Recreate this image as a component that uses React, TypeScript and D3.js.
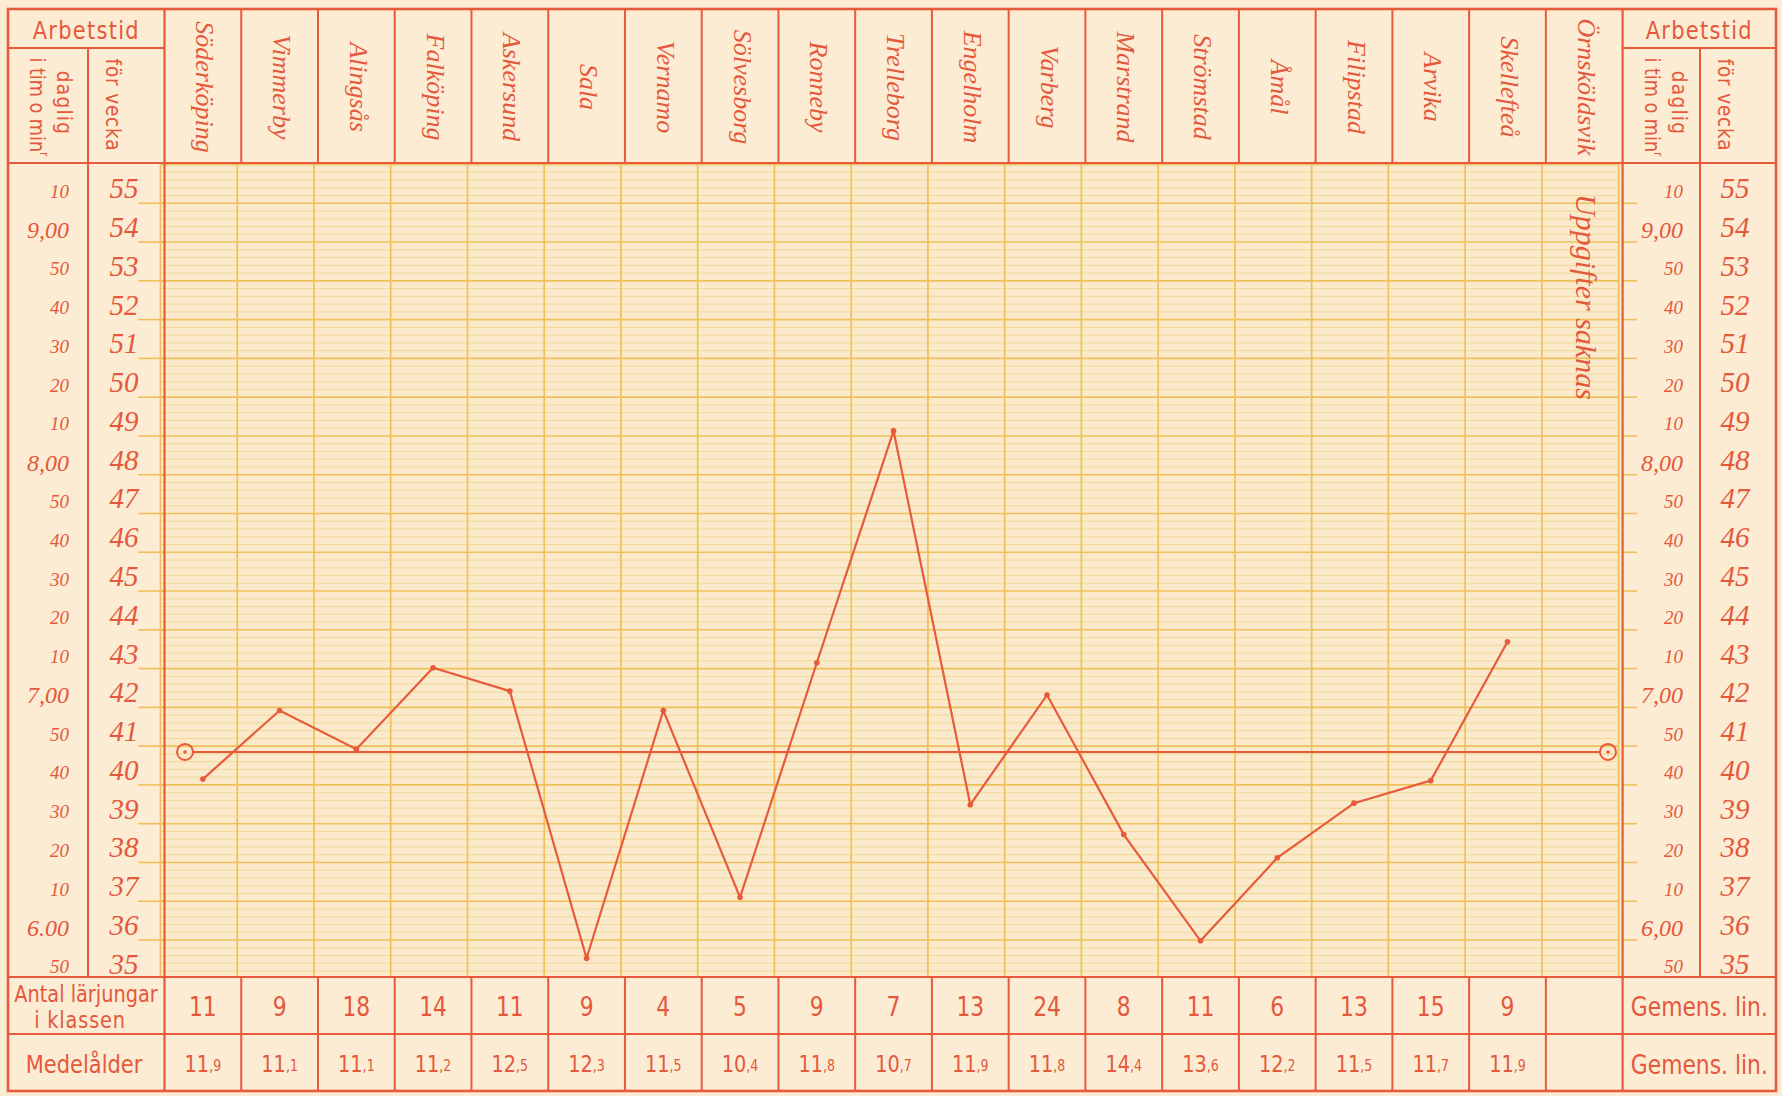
import React from "react";
import * as d3 from "d3";

// ---------- data ----------
const cities = [
  "Söderköping", "Vimmerby", "Alingsås", "Falköping", "Askersund", "Sala",
  "Vernamo", "Sölvesborg", "Ronneby", "Trelleborg", "Engelholm", "Varberg",
  "Marstrand", "Strömstad", "Åmål", "Filipstad", "Arvika", "Skellefteå", "Örnsköldsvik",
];
// working time, hours per week (null = no data)
const weeklyHours: (number | null)[] = [
  40.15, 41.92, 40.92, 43.02, 42.42, 35.53, 41.92, 37.1, 43.15, 49.13,
  39.49, 42.32, 38.72, 35.98, 38.12, 39.53, 40.11, 43.69, null,
];
const pupils: (number | null)[] = [11, 9, 18, 14, 11, 9, 4, 5, 9, 7, 13, 24, 8, 11, 6, 13, 15, 9, null];
const meanAge: (number | null)[] = [
  11.9, 11.1, 11.1, 11.2, 12.5, 12.3, 11.5, 10.4, 11.8, 10.7, 11.9, 11.8, 14.4, 13.6, 12.2, 11.5, 11.7, 11.9, null,
];
const commonLine = 40.85; // "Gemens. lin."
const weekTicks = [35, 36, 37, 38, 39, 40, 41, 42, 43, 44, 45, 46, 47, 48, 49, 50, 51, 52, 53, 54, 55];
const dailyLeft = ["50", "6.00", "10", "20", "30", "40", "50", "7,00", "10", "20", "30", "40", "50", "8,00", "10", "20", "30", "40", "50", "9,00", "10"];
const dailyRight = ["50", "6,00", "10", "20", "30", "40", "50", "7,00", "10", "20", "30", "40", "50", "8,00", "10", "20", "30", "40", "50", "9,00", "10"];
const missingNote = "Uppgifter saknas";

// ---------- style ----------
const RED = "#e75a3c";
const TXT = "#e4583c";
const PAPER = "#fcecd4";
const PLOTBG = "#faeacb";
const MAJOR = "#efc05a";
const MINOR = "#f2d690";
const SERIF = "'Liberation Serif', 'DejaVu Serif', serif";
const SANS = "'DejaVu Sans', Roboto, sans-serif";

const W = 1782, H = 1096;
const fL = 8, fT = 9, fR = 1776, fB = 1091;
const headSplit = 48, plotT = 163, plotB = 977, rowSplit = 1034;
const leftDiv = 88, plotL = 164.5, plotR = 1622.6, rightDiv = 1700;
const gx = -4; // yellow grid print offset
const SX = 0.84; // condensed look of the sans lettering

const fmtAge = (v: number) => {
  const [a, b] = v.toFixed(1).split(".");
  return { a, b };
};

function CText(props: { x: number; y: number; size: number; rot?: boolean; ls?: number; children: React.ReactNode }) {
  const { x, y, size, rot, ls, children } = props;
  const t = rot ? `translate(${x},${y}) rotate(90) scale(${SX},1)` : `translate(${x},${y}) scale(${SX},1)`;
  return (
    <text transform={t} fontSize={size} fontFamily={SANS} fill={TXT} textAnchor="middle" dominantBaseline="central" letterSpacing={ls ?? 0}>
      {children}
    </text>
  );
}

export default function App() {
  const x = d3.scaleBand<string>().domain(cities).range([plotL, plotR]).padding(0);
  const y = d3.scaleLinear().domain([35, 56]).range([978.8, 164.5]);
  const bw = x.bandwidth();
  const cx = (c: string) => (x(c) as number) + bw / 2;

  const minors = d3.range(35, 56.001, 0.2).filter((v) => Math.abs(v - Math.round(v)) > 0.01);
  const majors = d3.range(35, 57, 1);

  const pts = cities
    .map((c, i) => ({ c, v: weeklyHours[i] }))
    .filter((d) => d.v !== null) as { c: string; v: number }[];
  const line = d3.line<{ c: string; v: number }>().x((d) => cx(d.c)).y((d) => y(d.v));

  const boundaries = cities.map((c) => x(c) as number).concat([plotR]);
  const meanY = y(commonLine);
  const cL = plotL + 20.5, cR = plotR - 14.6;

  return (
    <svg width={W} height={H} style={{ position: "absolute", left: 0, top: 0, background: PAPER }}>
      <rect x={0} y={0} width={W} height={H} fill={PAPER} />
      <defs>
        <clipPath id="plotclip">
          <rect x={plotL - 6} y={plotT} width={plotR - plotL + 6} height={plotB - plotT} />
        </clipPath>
      </defs>
      <rect x={plotL} y={plotT} width={plotR - plotL} height={plotB - plotT} fill={PLOTBG} />

      {/* grid */}
      <g clipPath="url(#plotclip)">
        {minors.map((v, i) => (
          <line key={"mi" + i} x1={plotL + gx} x2={plotR + gx} y1={y(v)} y2={y(v)} stroke={MINOR} strokeWidth={0.9} />
        ))}
        {majors.map((v) => (
          <line key={"ma" + v} x1={plotL + gx} x2={plotR + gx} y1={y(v)} y2={y(v)} stroke={MAJOR} strokeWidth={1.6} />
        ))}
        {boundaries.map((b, i) => (
          <line key={"vb" + i} x1={b + gx} x2={b + gx} y1={plotT} y2={plotB} stroke={MAJOR} strokeWidth={1.7} />
        ))}
      </g>
      {/* tick extensions */}
      {weekTicks.filter((v) => v > 35).map((v) => (
        <g key={"ext" + v}>
          <line x1={138} x2={plotL} y1={y(v)} y2={y(v)} stroke={MAJOR} strokeWidth={1.6} />
          <line x1={plotR} x2={1637} y1={y(v)} y2={y(v)} stroke={MAJOR} strokeWidth={1.6} />
        </g>
      ))}

      {/* red ruling */}
      <g stroke={RED} fill="none">
        <rect x={fL} y={fT} width={fR - fL} height={fB - fT} strokeWidth={2.6} />
        <line x1={fL} x2={fR} y1={plotT} y2={plotT} strokeWidth={2.2} />
        <line x1={fL} x2={fR} y1={plotB} y2={plotB} strokeWidth={2.2} />
        <line x1={fL} x2={fR} y1={rowSplit} y2={rowSplit} strokeWidth={2} />
        <line x1={fL} x2={plotL} y1={headSplit} y2={headSplit} strokeWidth={2} />
        <line x1={plotR} x2={fR} y1={headSplit} y2={headSplit} strokeWidth={2} />
        <line x1={leftDiv} x2={leftDiv} y1={headSplit} y2={plotB} strokeWidth={2} />
        <line x1={rightDiv} x2={rightDiv} y1={headSplit} y2={plotB} strokeWidth={2} />
        <line x1={plotL} x2={plotL} y1={fT} y2={fB} strokeWidth={2.2} />
        <line x1={plotR} x2={plotR} y1={fT} y2={fB} strokeWidth={2.2} />
        {boundaries.slice(1, -1).map((b, i) => (
          <g key={"rb" + i}>
            <line x1={b} x2={b} y1={fT} y2={plotT} strokeWidth={2} />
            <line x1={b} x2={b} y1={plotB} y2={fB} strokeWidth={2} />
          </g>
        ))}
      </g>

      {/* header texts */}
      {[{ l: fL, r: plotL }, { l: plotR, r: fR }].map((s, k) => (
        <g key={"hd" + k}>
          <CText x={(s.l + s.r) / 2} y={30} size={25} ls={1.5}>Arbetstid</CText>
          <CText x={s.l + 57} y={103} size={22} rot ls={1.5}>daglig</CText>
          <CText x={s.l + 29} y={107} size={21} rot>
            i tim o min
            <tspan fontSize={13} dy={-7}>r</tspan>
          </CText>
          <CText x={(k === 0 ? leftDiv : rightDiv) + 26} y={105} size={22} rot ls={1}>för vecka</CText>
        </g>
      ))}
      {cities.map((c) => (
        <text
          key={"cn" + c}
          transform={`translate(${cx(c) + 2},87) rotate(90)`}
          fontFamily={SERIF}
          fontStyle="italic"
          fontSize={26}
          fill={TXT}
          textAnchor="middle"
          dominantBaseline="central"
        >
          {c}
        </text>
      ))}

      {/* axis labels */}
      {weekTicks.map((v, i) => {
        const big = dailyLeft[i].length > 2;
        return (
          <g key={"ax" + v} fill={TXT} fontFamily={SERIF} fontStyle="italic">
            <text x={124} y={y(v) - 15} fontSize={29} textAnchor="middle" dominantBaseline="central">{v}</text>
            <text x={1735} y={y(v) - 15} fontSize={29} textAnchor="middle" dominantBaseline="central">{v}</text>
            <text x={69} y={y(v) - 12} fontSize={big ? 24 : 19} textAnchor="end" dominantBaseline="central">{dailyLeft[i]}</text>
            <text x={1683} y={y(v) - 12} fontSize={big ? 24 : 19} textAnchor="end" dominantBaseline="central">{dailyRight[i]}</text>
          </g>
        );
      })}

      {/* missing data note */}
      <text
        transform={`translate(${cx("Örnsköldsvik") + 2},194) rotate(90)`}
        fontFamily={SERIF}
        fontStyle="italic"
        fontSize={30}
        fill={TXT}
        textAnchor="start"
        dominantBaseline="central"
      >
        {missingNote}
      </text>

      {/* common line */}
      <g stroke={RED} fill="none" strokeWidth={2}>
        <line x1={cL + 8} x2={cR - 8} y1={meanY} y2={meanY} />
        <circle cx={cL} cy={meanY} r={8} />
        <circle cx={cR} cy={meanY} r={8} />
      </g>
      <circle cx={cL} cy={meanY} r={1.8} fill={RED} />
      <circle cx={cR} cy={meanY} r={1.8} fill={RED} />

      {/* data line */}
      <path d={line(pts) || ""} fill="none" stroke={RED} strokeWidth={2.2} strokeLinejoin="miter" />
      {pts.map((d) => (
        <circle key={"pt" + d.c} cx={cx(d.c)} cy={y(d.v)} r={2.8} fill={RED} />
      ))}

      {/* bottom table */}
      <CText x={86} y={994} size={23}>Antal lärjungar</CText>
      <CText x={80} y={1020} size={23} ls={1}>i klassen</CText>
      <CText x={84} y={1064} size={25}>Medelålder</CText>
      <CText x={(plotR + fR) / 2} y={1007} size={26}>Gemens. lin.</CText>
      <CText x={(plotR + fR) / 2} y={1065} size={26}>Gemens. lin.</CText>
      {cities.map((c, i) =>
        pupils[i] === null ? null : (
          <CText key={"pu" + c} x={cx(c)} y={1007} size={26}>
            {pupils[i]}
          </CText>
        )
      )}
      {cities.map((c, i) => {
        const v = meanAge[i];
        if (v === null) return null;
        const f = fmtAge(v);
        return (
          <CText key={"ma" + c} x={cx(c)} y={1064} size={23}>
            {f.a}
            <tspan fontSize={15} dy={2}>,{f.b}</tspan>
          </CText>
        );
      })}
    </svg>
  );
}
